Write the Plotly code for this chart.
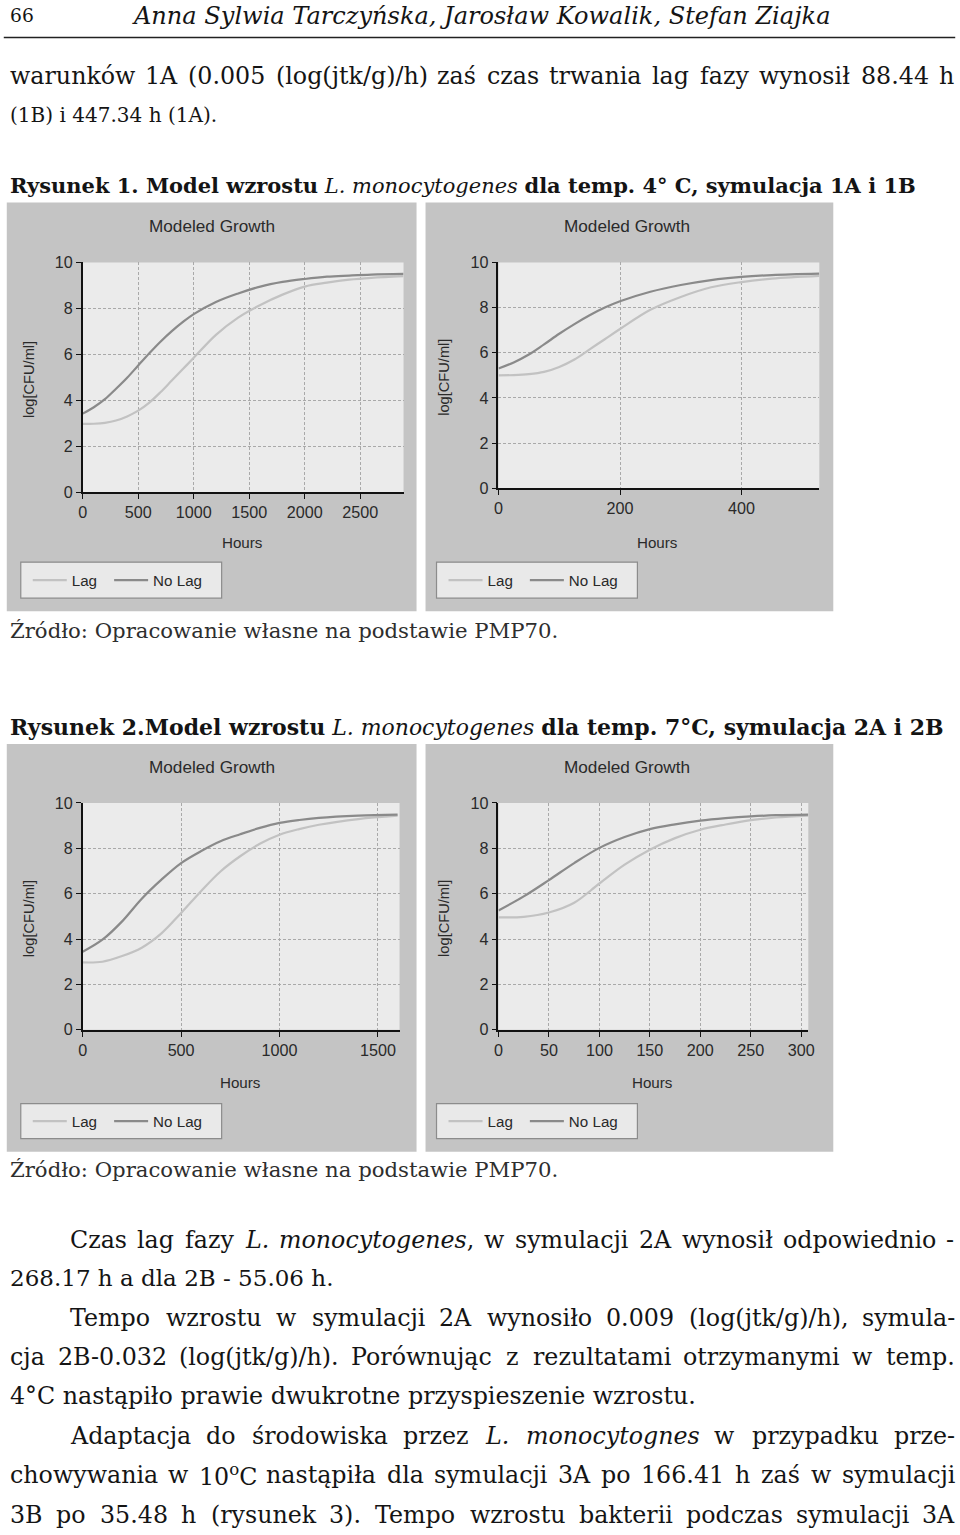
import re
import plotly.graph_objects as go

W, H = 960, 1535
# the photographed page comes out ~1.1% smaller about its centre; pre-compensate
K = 1.011
CX, CY = 480, 767.5

# ---------------- chart data ----------------
hours_1a = [0, 100, 200, 300, 400, 500, 600, 700, 800, 900, 1000, 1200, 1400, 1600, 1800, 2000, 2200, 2400, 2600, 2890]
lag_1a = [2.97, 2.98, 3.02, 3.12, 3.3, 3.55, 3.9, 4.35, 4.85, 5.35, 5.85, 6.85, 7.6, 8.15, 8.6, 8.95, 9.12, 9.25, 9.33, 9.4]
nolag_1a = [3.42, 3.7, 4.05, 4.5, 4.98, 5.52, 6.05, 6.55, 7.0, 7.4, 7.75, 8.28, 8.65, 8.95, 9.15, 9.28, 9.38, 9.43, 9.47, 9.5]

hours_1b = [0, 25, 50, 75, 100, 125, 150, 175, 200, 250, 300, 350, 400, 450, 528]
lag_1b = [5.0, 5.01, 5.05, 5.15, 5.37, 5.7, 6.15, 6.6, 7.05, 7.9, 8.47, 8.9, 9.13, 9.28, 9.4]
nolag_1b = [5.3, 5.57, 5.92, 6.37, 6.84, 7.27, 7.66, 8.0, 8.28, 8.7, 9.0, 9.22, 9.36, 9.44, 9.5]

hours_2a = [0, 100, 200, 300, 400, 500, 600, 700, 800, 900, 1000, 1100, 1200, 1400, 1600]
lag_2a = [2.97, 3.0, 3.25, 3.62, 4.25, 5.15, 6.1, 6.98, 7.65, 8.2, 8.6, 8.85, 9.04, 9.29, 9.44]
nolag_2a = [3.44, 3.97, 4.78, 5.78, 6.62, 7.35, 7.87, 8.31, 8.62, 8.9, 9.12, 9.25, 9.34, 9.44, 9.49]

hours_2b = [0, 25, 50, 75, 100, 125, 150, 175, 200, 225, 250, 275, 307]
lag_2b = [4.96, 4.98, 5.17, 5.6, 6.45, 7.28, 7.94, 8.45, 8.82, 9.05, 9.24, 9.36, 9.44]
nolag_2b = [5.26, 5.88, 6.6, 7.35, 8.02, 8.5, 8.85, 9.06, 9.22, 9.33, 9.41, 9.46, 9.49]

xticks_1a = [0, 500, 1000, 1500, 2000, 2500]
xticks_1b = [0, 200, 400]
xticks_2a = [0, 500, 1000, 1500]
xticks_2b = [0, 50, 100, 150, 200, 250, 300]
yticks = [0, 2, 4, 6, 8, 10]

series_names = ["Lag", "No Lag"]
chart_title = "Modeled Growth"
x_title = "Hours"
y_title = "log[CFU/ml]"

# ---------------- page text ----------------
header_num = "66"
header_authors = "Anna Sylwia Tarczyńska, Jarosław Kowalik, Stefan Ziajka"
para_top = [
    "warunków 1A (0.005 (log(jtk/g)/h) zaś czas trwania lag fazy wynosił 88.44 h",
    "(1B) i 447.34 h (1A).",
]
caption_1 = "<b>Rysunek 1. Model wzrostu</b> <i>L. monocytogenes</i> <b>dla temp. 4° C, symulacja 1A i 1B</b>"
caption_2 = "<b>Rysunek 2.Model wzrostu</b> <i>L. monocytogenes</i> <b>dla temp. 7°C, symulacja 2A i 2B</b>"
source_text = "Źródło: Opracowanie własne na podstawie PMP70."
para_bottom = [
    "Czas lag fazy <i>L.</i> <i>monocytogenes</i>, w symulacji 2A wynosił odpowiednio -",
    "268.17 h a dla 2B - 55.06 h.",
    "Tempo wzrostu w symulacji 2A wynosiło 0.009 (log(jtk/g)/h), symula-",
    "cja 2B-0.032 (log(jtk/g)/h). Porównując z rezultatami otrzymanymi w temp.",
    "4°C nastąpiło prawie dwukrotne przyspieszenie wzrostu.",
    "Adaptacja do środowiska przez <i>L.</i> <i>monocytognes</i> w przypadku prze-",
    "chowywania w 10<sup>o</sup>C nastąpiła dla symulacji 3A po 166.41 h zaś w symulacji",
    "3B po 35.48 h (rysunek 3). Tempo wzrostu bakterii podczas symulacji 3A",
]


def fx(x):
    return (CX + (x - CX) * K) / W


def fy(y):
    return 1 - (CY + (y - CY) * K) / H


def sz(v):
    return v * K


LAG_C = "#c2c2c2"
NOLAG_C = "#8a8a8a"
PANEL_C = "#c4c4c4"
PLOT_C = "#ebebeb"
SANS = "Liberation Sans"
SERIF = "DejaVu Serif"
TXT_C = "#141414"

# approximate DejaVu Serif advance widths (em)
_CW = dict(zip("abcdefghijklmnopqrstuvwxyz",
               [.596, .640, .560, .640, .592, .371, .640, .644, .320, .314, .599, .320, .948,
                .644, .602, .640, .640, .478, .513, .402, .644, .565, .856, .564, .565, .525]))
_CW.update(dict(zip("ABCDEFGHIJKLMNOPQRSTUVWXYZ",
                    [.722, .735, .765, .802, .730, .694, .799, .872, .395, .401, .747, .664, 1.024,
                     .875, .820, .731, .820, .770, .685, .668, .812, .722, 1.028, .712, .668, .667])))
_CW.update({c: .636 for c in "0123456789"})
_CW.update({" ": .318, ".": .318, ",": .318, ":": .337, "(": .390, ")": .390, "/": .337,
            "-": .338, "°": .5, "ą": .596, "ę": .592, "ć": .560, "ł": .34, "ń": .644, "ó": .602,
            "ś": .513, "ź": .525, "ż": .525, "Ź": .667, "Ż": .667, "[": .39, "]": .39})


def est_em(html):
    total = 0.0
    bold = False
    for tok in re.split(r"(<[^>]+>)", html):
        if tok.startswith("<"):
            if tok == "<b>":
                bold = True
            elif tok == "</b>":
                bold = False
            continue
        f = 1.12 if bold else 1.0
        total += sum(_CW.get(c, .6) for c in tok) * f
    for s in re.findall(r"<sup>(.*?)</sup>", html):
        total -= sum(_CW.get(c, .6) for c in s) * 0.4
    return total


fig = go.Figure()
shapes = []
annotations = []
layout_extra = {}

panels = [
    dict(h=hours_1a, lag=lag_1a, nl=nolag_1a, xmax=2890, ticks=xticks_1a,
         box=(7, 202, 417, 611), plot=(83, 262, 404, 492), leg=(21, 562, 222, 598),
         title=(212, 226), ylab=30, xlab=(243, 542)),
    dict(h=hours_1b, lag=lag_1b, nl=nolag_1b, xmax=528, ticks=xticks_1b,
         box=(426, 202, 834, 611), plot=(499, 262, 820, 488), leg=(437, 562, 638, 598),
         title=(628, 226), ylab=445, xlab=(658, 542)),
    dict(h=hours_2a, lag=lag_2a, nl=nolag_2a, xmax=1610, ticks=xticks_2a,
         box=(7, 744, 417, 1152), plot=(83, 803, 400, 1030), leg=(21, 1104, 222, 1139),
         title=(212, 767), ylab=30, xlab=(241, 1083)),
    dict(h=hours_2b, lag=lag_2b, nl=nolag_2b, xmax=307, ticks=xticks_2b,
         box=(426, 744, 834, 1152), plot=(499, 803, 809, 1030), leg=(437, 1104, 638, 1139),
         title=(628, 767), ylab=445, xlab=(653, 1083)),
]

for i, p in enumerate(panels, start=1):
    sfx = "" if i == 1 else str(i)
    legname = "legend" if i == 1 else f"legend{i}"
    fig.add_trace(go.Scatter(x=p["h"], y=p["lag"], mode="lines", name=series_names[0],
                             line=dict(color=LAG_C, width=sz(2.2), shape="spline"), legendwidth=sz(32),
                             xaxis=f"x{sfx}", yaxis=f"y{sfx}", legend=legname))
    fig.add_trace(go.Scatter(x=p["h"], y=p["nl"], mode="lines", name=series_names[1],
                             line=dict(color=NOLAG_C, width=sz(2.2), shape="spline"),
                             xaxis=f"x{sfx}", yaxis=f"y{sfx}", legend=legname))
    l, t, r, b = p["plot"]
    axis_common = dict(showgrid=True, gridcolor="#a9a9a9", griddash="3px,2px", gridwidth=1,
                       showline=True, linecolor="#111", linewidth=1.5, ticks="outside",
                       ticklen=5, tickcolor="#111", tickfont=dict(family=SANS, size=sz(16), color="#2a2a2a"),
                       zeroline=False, fixedrange=True)
    layout_extra[f"xaxis{sfx}"] = dict(domain=[fx(l), fx(r)], anchor=f"y{sfx}", range=[0, p["xmax"]],
                                       tickvals=p["ticks"], **axis_common)
    layout_extra[f"yaxis{sfx}"] = dict(domain=[fy(b), fy(t)], anchor=f"x{sfx}", range=[0, 10],
                                       tickvals=yticks, **axis_common)
    bx0, by0, bx1, by1 = p["box"]
    shapes.append(dict(type="rect", xref="paper", yref="paper", x0=fx(bx0), x1=fx(bx1), y0=fy(by1), y1=fy(by0),
                       fillcolor=PANEL_C, line=dict(width=0), layer="below"))
    shapes.append(dict(type="rect", xref="paper", yref="paper", x0=fx(l), x1=fx(r), y0=fy(b), y1=fy(t),
                       fillcolor=PLOT_C, line=dict(width=0), layer="below"))
    lx0, ly0, lx1, ly1 = p["leg"]
    shapes.append(dict(type="rect", xref="paper", yref="paper", x0=fx(lx0), x1=fx(lx1), y0=fy(ly1), y1=fy(ly0),
                       fillcolor="#e9e9e9", line=dict(color="#8c8c8c", width=1.2), layer="below"))
    layout_extra[legname] = dict(x=fx(lx0 + 7), y=fy((ly0 + ly1) / 2), xanchor="left", yanchor="middle",
                                 orientation="h", bgcolor="rgba(0,0,0,0)", borderwidth=0, itemwidth=34,
                                 font=dict(family=SANS, size=sz(15), color="#2a2a2a"))
    annotations.append(dict(text=chart_title, x=fx(p["title"][0]), y=fy(p["title"][1]), xref="paper", yref="paper",
                            showarrow=False, xanchor="center", yanchor="middle",
                            font=dict(family=SANS, size=sz(17), color="#2a2a2a")))
    annotations.append(dict(text=y_title, x=fx(p["ylab"]), y=fy((t + b) / 2 + 2), xref="paper", yref="paper",
                            showarrow=False, xanchor="center", yanchor="middle", textangle=-90,
                            font=dict(family=SANS, size=sz(14.5), color="#2a2a2a")))
    annotations.append(dict(text=x_title, x=fx(p["xlab"][0]), y=fy(p["xlab"][1]), xref="paper", yref="paper",
                            showarrow=False, xanchor="center", yanchor="middle",
                            font=dict(family=SANS, size=sz(15), color="#2a2a2a")))

PAD = 2


def add_text(txt, x, y, size, color=TXT_C, italic=False, anchor="left"):
    annotations.append(dict(text=txt, x=fx(x - (PAD if anchor == "left" else 0)), y=fy(y),
                            xref="paper", yref="paper", showarrow=False,
                            xanchor=anchor, yanchor="middle",
                            font=dict(family=SERIF, size=sz(size), color=color,
                                      style="italic" if italic else "normal")))


def add_line(txt, x0, x1, y, size, justify):
    words = txt.split(" ")
    widths = [est_em(w) * size for w in words]
    natural = sum(widths) + 0.318 * size * (len(words) - 1)
    if natural > (x1 - x0):
        size = size * (x1 - x0) / natural
        widths = [est_em(w) * size for w in words]
    if not justify or len(words) < 2:
        add_text(txt, x0, y, size)
        return
    gap = ((x1 - x0) - sum(widths)) / (len(words) - 1)
    x = x0
    for w, wd in zip(words, widths):
        add_text(w, x, y, size)
        x += wd + gap


# header
add_text(header_num, 10, 15, 18.5)
annotations.append(dict(text=header_authors, x=fx(482), y=fy(15), xref="paper", yref="paper", showarrow=False,
                        xanchor="center", yanchor="middle",
                        font=dict(family=SERIF, size=sz(691 / est_em(header_authors)), color=TXT_C,
                                  style="italic")))
shapes.append(dict(type="line", xref="paper", yref="paper", x0=fx(4), x1=fx(956), y0=fy(37), y1=fy(37),
                   line=dict(color="#222", width=1.5)))

BODY = 23.5
add_line(para_top[0], 10, 955, 75, BODY, True)
add_line(para_top[1], 10, 215, 114, BODY, False)

add_text(caption_1, 10, 185, 912 / est_em(caption_1))
add_text(caption_2, 10, 727, 940 / est_em(caption_2))
src_size = 545 / est_em(source_text)
add_text(source_text, 10, 630, src_size, color="#2e2e2e")
add_text(source_text, 10, 1170, src_size, color="#2e2e2e")

bottom_geom = [(70, 955, 1240, True), (10, 330, 1278, False), (70, 955, 1318, True), (10, 955, 1358, True),
               (10, 725, 1397, False), (70, 955, 1437, True), (10, 955, 1476, True), (10, 955, 1516, True)]
for txt, (x0, x1, y, j) in zip(para_bottom, bottom_geom):
    add_line(txt, x0, x1, y, BODY, j)

fig.update_layout(width=W, height=H, margin=dict(l=0, r=0, t=0, b=0),
                  paper_bgcolor="white", plot_bgcolor=PLOT_C,
                  shapes=shapes, annotations=annotations, **layout_extra)

fig.write_html("out.html", config={"displayModeBar": False},
               post_script="document.body.style.margin='0px';document.documentElement.style.overflow='hidden';")
